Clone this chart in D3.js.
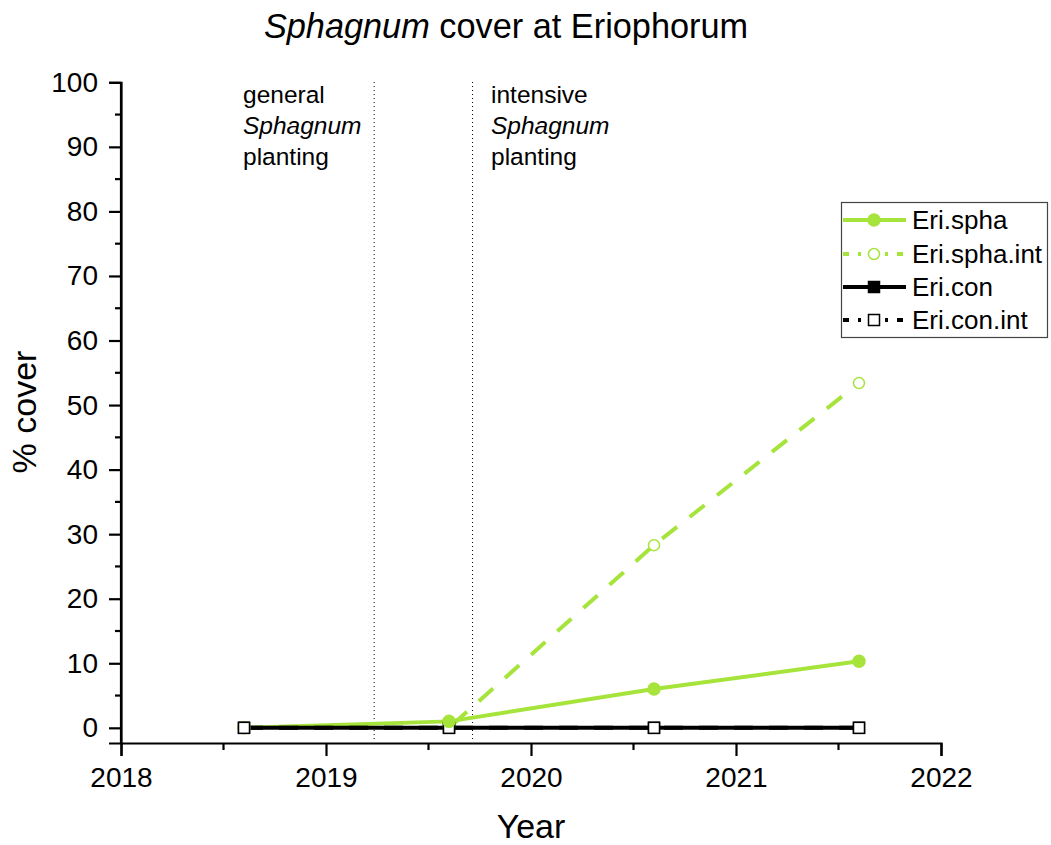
<!DOCTYPE html>
<html><head><meta charset="utf-8">
<script src="https://cdn.jsdelivr.net/npm/d3@7"></script>
<style>
body{margin:0;background:#fff;}
svg{display:block;font-family:Arial,"Liberation Sans",sans-serif;}
</style></head><body>
<svg id="c" width="1051" height="845"></svg>
<script>
const years = [2018.6, 2019.6, 2020.6, 2021.6];
const eriSpha = [0, 1.0, 6.0, 10.3];
const eriSphaInt = [0, 0, 28.3, 53.4];
const eriCon = [0, 0, 0, 0];
const eriConInt = [0, 0, 0, 0];
const seriesNames = ["Eri.spha", "Eri.spha.int", "Eri.con", "Eri.con.int"];
const xTicks = [2018, 2019, 2020, 2021, 2022];
const yTicks = [0, 10, 20, 30, 40, 50, 60, 70, 80, 90, 100];
const phaseLines = [2019.235, 2019.715];
const phaseLabels = [["general", "Sphagnum", "planting"], ["intensive", "Sphagnum", "planting"]];

const green = "#a6e43c";
const svg = d3.select("#c");
const x = d3.scaleLinear().domain([2018, 2022]).range([121, 941]);
const y = d3.scaleLinear().domain([-2.35, 100]).range([743, 82.3]);

// axes
const xAxis = d3.axisBottom(x).tickValues(xTicks).tickFormat(d3.format("d")).tickSizeOuter(0).tickSize(13).tickPadding(11);
const gx = svg.append("g").attr("transform", "translate(0,743)").call(xAxis);
gx.selectAll("text").attr("font-size", 28).attr("fill", "#000").attr("font-family", "Arial, 'Liberation Sans', sans-serif");
gx.select(".domain").attr("stroke-width", 2.2).attr("stroke", "#000");
gx.selectAll(".tick line").attr("stroke-width", 2.2);
const xMinor = d3.range(2018.5, 2022, 1);
svg.append("g").selectAll("line").data(xMinor).join("line")
  .attr("x1", d => x(d)).attr("x2", d => x(d)).attr("y1", 743).attr("y2", 750)
  .attr("stroke", "#000").attr("stroke-width", 2.2);

const yAxis = d3.axisLeft(y).tickValues(yTicks).tickSizeOuter(0).tickSize(12).tickPadding(11);
const gy = svg.append("g").attr("transform", "translate(121,0)").call(yAxis);
gy.selectAll("text").attr("font-size", 28).attr("fill", "#000").attr("font-family", "Arial, 'Liberation Sans', sans-serif");
gy.select(".domain").attr("stroke-width", 2.2).attr("stroke", "#000");
gy.selectAll(".tick line").attr("stroke-width", 2.2);
const yMinor = d3.range(5, 100, 10);
svg.append("g").selectAll("line").data(yMinor).join("line")
  .attr("x1", 115).attr("x2", 121).attr("y1", d => y(d)).attr("y2", d => y(d))
  .attr("stroke", "#000").attr("stroke-width", 2.2);
svg.append("line").attr("x1", 121).attr("x2", 121).attr("y1", 82.3).attr("y2", 744).attr("stroke", "#000").attr("stroke-width", 2.2);

// phase lines
svg.append("g").selectAll("line").data(phaseLines).join("line")
  .attr("x1", d => x(d)).attr("x2", d => x(d)).attr("y1", 82).attr("y2", 742)
  .attr("stroke", "#000").attr("stroke-width", 1).attr("stroke-dasharray", "1,3");

phaseLabels.forEach((lines, i) => {
  const t = svg.append("text").attr("x", i === 0 ? 243 : 491).attr("y", 103)
    .attr("font-size", 24.5).attr("fill", "#000");
  lines.forEach((s, j) => {
    t.append("tspan").attr("x", i === 0 ? 243 : 491).attr("y", 103 + j * 31)
      .attr("font-style", j === 1 ? "italic" : "normal").text(s);
  });
});

// series
const series = [
  {name: seriesNames[0], vals: eriSpha, color: green, dash: null, marker: "circle", fill: green},
  {name: seriesNames[1], vals: eriSphaInt, color: green, dash: "19,16", marker: "circle", fill: "#fff"},
  {name: seriesNames[2], vals: eriCon, color: "#000", dash: null, marker: "square", fill: "#000"},
  {name: seriesNames[3], vals: eriConInt, color: "#000", dash: "19,16", marker: "square", fill: "#fff"}
];
const line = d3.line().x(d => x(d[0])).y(d => y(d[1]));
series.forEach(s => {
  const pts = years.map((yr, i) => [yr, s.vals[i]]);
  svg.append("path").attr("d", line(pts)).attr("fill", "none")
    .attr("stroke", s.color).attr("stroke-width", 4)
    .attr("stroke-dasharray", s.dash);
});
function marker(g, s, cx, cy) {
  if (s.marker === "circle") {
    g.append("circle").attr("cx", cx).attr("cy", cy).attr("r", s.fill === "#fff" ? 5.5 : 6)
      .attr("fill", s.fill).attr("stroke", s.color).attr("stroke-width", 1.5);
  } else {
    g.append("rect").attr("x", cx - 5.5).attr("y", cy - 5.5).attr("width", 11).attr("height", 11)
      .attr("fill", s.fill).attr("stroke", s.color).attr("stroke-width", 1.5);
  }
}
const mg = svg.append("g");
// zero-valued green markers lie beneath the squares; non-zero ones sit on top
[series[0], series[1]].forEach(s => years.forEach((yr, i) => { if (s.vals[i] === 0) marker(mg, s, x(yr), y(s.vals[i])); }));
[series[2], series[3]].forEach(s => years.forEach((yr, i) => marker(mg, s, x(yr), y(s.vals[i]))));
[series[1], series[0]].forEach(s => years.forEach((yr, i) => { if (s.vals[i] !== 0) marker(mg, s, x(yr), y(s.vals[i])); }));

// legend
const lg = svg.append("g");
lg.append("rect").attr("x", 841.5).attr("y", 202.5).attr("width", 206).attr("height", 135)
  .attr("fill", "#fff").attr("stroke", "#444").attr("stroke-width", 1.2);
const ly = [220, 254, 287, 320];
series.forEach((s, i) => {
  lg.append("line").attr("x1", 843).attr("x2", 906).attr("y1", ly[i]).attr("y2", ly[i])
    .attr("stroke", s.color).attr("stroke-width", 4)
    .attr("stroke-dasharray", s.dash ? "6,9,3,9" : null);
  marker(lg, s, 874, ly[i]);
  lg.append("text").attr("x", 912).attr("y", ly[i]).attr("dy", "0.35em")
    .attr("font-size", 26).attr("fill", "#000").text(s.name);
});

// titles
const title = svg.append("text").attr("x", 506).attr("y", 38).attr("text-anchor", "middle")
  .attr("font-size", 34.3).attr("fill", "#000");
title.append("tspan").attr("font-style", "italic").text("Sphagnum");
title.append("tspan").text(" cover at Eriophorum");
svg.append("text").attr("x", 531).attr("y", 838).attr("text-anchor", "middle")
  .attr("font-size", 34).attr("fill", "#000").text("Year");
svg.append("text").attr("transform", "translate(36,412) rotate(-90)").attr("text-anchor", "middle")
  .attr("font-size", 34).attr("fill", "#000").text("% cover");
</script>
</body></html>
